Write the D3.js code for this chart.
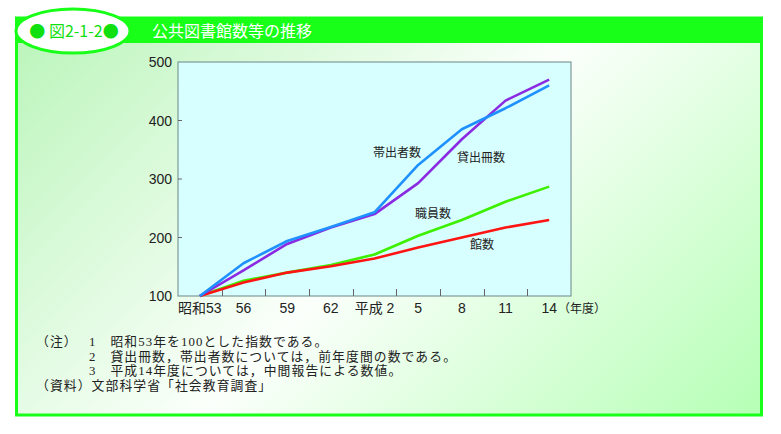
<!DOCTYPE html>
<html><head><meta charset="utf-8">
<script src="https://cdn.jsdelivr.net/npm/d3@7"></script>
<style>html,body{margin:0;padding:0;background:#fff;}</style>
</head><body>
<script>
const years = ["昭和53","56","59","62","平成 2","5","8","11","14"];
const lending = [100,144,189,217,240,293,368,434,470];     // 貸出冊数
const borrowers = [100,156,194,218,243,324,385,421,460];   // 帯出者数
const staff = [100,126,140,153,171,203,230,261,287];       // 職員数
const libraries = [100,123,140,151,164,183,200,217,230];   // 館数
const yTicks = [100,200,300,400,500];
const seriesNames = ["貸出冊数","帯出者数","職員数","館数"];
const notes = [
  "1　昭和53年を100とした指数である。",
  "2　貸出冊数，帯出者数については，前年度間の数である。",
  "3　平成14年度については，中間報告による数値。"
];

const W=781,H=434;
const svg=d3.select("body").append("svg").attr("width",W).attr("height",H);
const defs=svg.append("defs");
const g=defs.append("linearGradient").attr("id","bg").attr("gradientUnits","userSpaceOnUse")
  .attr("x1",30).attr("y1",30).attr("x2",585).attr("y2",585);
g.append("stop").attr("offset",0).attr("stop-color","#bcf5bc");
g.append("stop").attr("offset",0.5).attr("stop-color","#fbfffb");
g.append("stop").attr("offset",1).attr("stop-color","#b6ffb6");

const green="#18ff18";
svg.append("rect").attr("x",16.5).attr("y",18).attr("width",745).attr("height",397)
  .attr("fill","url(#bg)").attr("stroke",green).attr("stroke-width",3);
svg.append("rect").attr("x",15).attr("y",18).attr("width",748).attr("height",25).attr("fill",green);
svg.append("ellipse").attr("cx",73).attr("cy",31).attr("rx",57).attr("ry",22)
  .attr("fill","#fff").attr("stroke",green).attr("stroke-width",3);
svg.append("text").attr("x",74).attr("y",37).attr("text-anchor","middle")
  .attr("font-family","'Noto Sans CJK JP'").attr("font-size",16).attr("fill","#10e010")
  .text("● 図2-1-2●");
svg.append("text").attr("x",152).attr("y",37)
  .attr("font-family","'Noto Sans CJK JP'").attr("font-size",16).attr("fill","#fff")
  .text("公共図書館数等の推移");

const L=178,R=571,T=62,B=296;
const x=d3.scaleBand().domain(years).range([L,R]);
const y=d3.scaleLinear().domain([100,500]).range([B,T]);

svg.append("rect").attr("x",L).attr("y",T).attr("width",R-L).attr("height",B-T)
  .attr("fill","#d8ffff").attr("stroke","#7f9a9a").attr("stroke-width",1.2);

// inward ticks
const tickG=svg.append("g").attr("stroke","#666").attr("stroke-width",1);
years.slice(1).forEach(d=>{
  const xx=Math.round(x(d))+0.5;
  tickG.append("line").attr("x1",xx).attr("x2",xx).attr("y1",B).attr("y2",B-7);
});
yTicks.slice(1,-1).forEach(v=>{
  tickG.append("line").attr("x1",L).attr("x2",L+4).attr("y1",y(v)).attr("y2",y(v));
});

const font="'Liberation Sans','Noto Sans CJK JP',Arial,sans-serif";
svg.append("g").selectAll("text").data(yTicks).join("text")
  .attr("x",172).attr("y",d=>y(d)+5).attr("text-anchor","end")
  .attr("font-family",font).attr("font-size",14).attr("fill","#222").text(d=>d);
svg.append("g").selectAll("text").data(years).join("text")
  .attr("x",d=>x(d)+x.bandwidth()/2).attr("y",313).attr("text-anchor","middle")
  .attr("font-family",font).attr("font-size",14).attr("fill","#222").text(d=>d);
svg.append("text").attr("x",558).attr("y",313)
  .attr("font-family","'Noto Sans CJK JP'").attr("font-size",12).attr("fill","#222").text("（年度）");

const line=d3.line().x((d,i)=>x(years[i])+x.bandwidth()/2).y(d=>y(d));
const series=[
  {v:staff,c:"#3cf000"},
  {v:libraries,c:"#ff1414"},
  {v:lending,c:"#8a2be2"},
  {v:borrowers,c:"#1e90ff"}
];
svg.append("g").selectAll("path").data(series).join("path")
  .attr("d",d=>line(d.v)).attr("fill","none").attr("stroke",d=>d.c)
  .attr("stroke-width",2.6).attr("stroke-linejoin","round");

const lbl=[
  {t:seriesNames[1],x:373,y:157},
  {t:seriesNames[0],x:457,y:162},
  {t:seriesNames[2],x:415,y:218},
  {t:seriesNames[3],x:470,y:249}
];
svg.append("g").selectAll("text").data(lbl).join("text")
  .attr("x",d=>d.x).attr("y",d=>d.y).attr("font-family","'Noto Sans CJK JP'")
  .attr("font-size",12).attr("fill","#222").text(d=>d.t);

// notes block
const nt=svg.append("g").attr("font-family","'Liberation Serif','Noto Sans CJK JP',serif")
  .attr("font-size",12.8).attr("letter-spacing",1.1).attr("fill","#222");
nt.append("text").attr("x",36).attr("y",346).text("（注）");
notes.forEach((n,i)=>{
  nt.append("text").attr("x",89).attr("y",346+i*14.5).text(n);
});
nt.append("text").attr("x",36).attr("y",389.5).text("（資料）文部科学省「社会教育調査」");
</script>
</body></html>
